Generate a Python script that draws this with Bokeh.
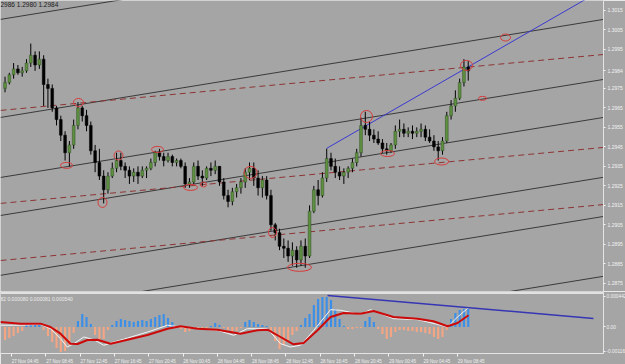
from bokeh.plotting import figure
from bokeh.layouts import column
from bokeh.models import (Range1d, FixedTicker, Span, Label, ColumnDataSource, AllLabels)
from bokeh.embed import file_html
from bokeh.resources import INLINE

# ---------------- data ----------------
opens = [1.2975,1.2978,1.2982,1.2985,1.2983,1.2984,1.2988,1.2992,1.2987,1.2990,
         1.2977,1.2975,1.2965,1.2959,1.2951,1.2942,1.2946,1.2956,1.2965,1.2961,
         1.2956,1.2943,1.2937,1.2930,1.2923,1.2930,1.2934,1.2938,1.2935,1.2933,
         1.2930,1.2932,1.2930,1.2933,1.2934,1.2937,1.2942,1.2940,1.2938,1.2940,
         1.2937,1.2938,1.2935,1.2926,1.2927,1.2935,1.2930,1.2929,1.2934,1.2933,
         1.2935,1.2927,1.2920,1.2917,1.2922,1.2924,1.2927,1.2932,1.2934,1.2929,
         1.2924,1.2928,1.2920,1.2905,1.2901,1.2894,1.2893,1.2889,1.2892,1.2887,
         1.2894,1.2889,1.2912,1.2923,1.2920,1.2929,1.2939,1.2935,1.2932,1.2930,
         1.2932,1.2934,1.2937,1.2942,1.2956,1.2954,1.2951,1.2949,1.2947,1.2944,
         1.2943,1.2946,1.2953,1.2954,1.2952,1.2953,1.2952,1.2953,1.2954,1.2950,
         1.2948,1.2945,1.2943,1.2948,1.2961,1.2966,1.2970,1.2978,1.2986]
highs = [1.2981,1.2983,1.2988,1.2987,1.2986,1.2990,1.2998,1.2994,1.2994,1.2992,
         1.2980,1.2977,1.2966,1.2961,1.2953,1.2948,1.2959,1.2968,1.2966,1.2964,
         1.2958,1.2946,1.2944,1.2933,1.2932,1.2937,1.2942,1.2942,1.2937,1.2935,
         1.2934,1.2935,1.2935,1.2935,1.2939,1.2943,1.2944,1.2942,1.2942,1.2941,
         1.2939,1.2939,1.2937,1.2929,1.2937,1.2938,1.2933,1.2935,1.2937,1.2938,
         1.2935,1.2929,1.2923,1.2924,1.2926,1.2929,1.2934,1.2937,1.2937,1.2933,
         1.2930,1.2930,1.2923,1.2906,1.2903,1.2898,1.2897,1.2896,1.2894,1.2897,
         1.2898,1.2915,1.2925,1.2928,1.2932,1.2944,1.2942,1.2939,1.2935,1.2934,
         1.2935,1.2939,1.2944,1.2960,1.2963,1.2958,1.2954,1.2953,1.2949,1.2947,
         1.2947,1.2956,1.2959,1.2957,1.2955,1.2956,1.2955,1.2957,1.2956,1.2954,
         1.2951,1.2948,1.2950,1.2963,1.2969,1.2974,1.2980,1.2990,1.2989]
lows = [1.2973,1.2977,1.2980,1.2982,1.2981,1.2983,1.2986,1.2984,1.2985,1.2966,
        1.2965,1.2963,1.2956,1.2948,1.2938,1.2935,1.2944,1.2954,1.2958,1.2953,
        1.2941,1.2932,1.2928,1.2916,1.2921,1.2929,1.2932,1.2933,1.2929,1.2926,
        1.2927,1.2926,1.2929,1.2929,1.2933,1.2935,1.2938,1.2935,1.2937,1.2935,
        1.2935,1.2934,1.2924,1.2924,1.2926,1.2928,1.2925,1.2928,1.2930,1.2931,
        1.2925,1.2918,1.2914,1.2915,1.2919,1.2921,1.2924,1.2928,1.2925,1.2920,
        1.2919,1.2918,1.2902,1.2897,1.2892,1.2888,1.2886,1.2884,1.2883,1.2884,
        1.2883,1.2888,1.2911,1.2915,1.2919,1.2927,1.2933,1.2929,1.2928,1.2926,
        1.2929,1.2932,1.2935,1.2940,1.2951,1.2948,1.2947,1.2946,1.2942,1.2941,
        1.2942,1.2944,1.2950,1.2950,1.2950,1.2949,1.2950,1.2950,1.2948,1.2947,
        1.2943,1.2938,1.2941,1.2947,1.2959,1.2963,1.2969,1.2976,1.2979]
closes = [1.2978,1.2982,1.2985,1.2983,1.2984,1.2988,1.2992,1.2987,1.2990,1.2977,
          1.2975,1.2965,1.2959,1.2951,1.2942,1.2946,1.2956,1.2965,1.2961,1.2956,
          1.2943,1.2937,1.2930,1.2923,1.2930,1.2934,1.2938,1.2935,1.2933,1.2930,
          1.2932,1.2930,1.2933,1.2934,1.2937,1.2942,1.2940,1.2938,1.2940,1.2937,
          1.2938,1.2935,1.2926,1.2927,1.2935,1.2930,1.2929,1.2934,1.2933,1.2935,
          1.2927,1.2920,1.2917,1.2922,1.2924,1.2927,1.2932,1.2934,1.2929,1.2924,
          1.2928,1.2920,1.2905,1.2901,1.2894,1.2893,1.2889,1.2892,1.2887,1.2894,
          1.2889,1.2912,1.2923,1.2920,1.2929,1.2939,1.2935,1.2932,1.2930,1.2932,
          1.2934,1.2937,1.2942,1.2956,1.2954,1.2951,1.2949,1.2947,1.2944,1.2943,
          1.2946,1.2953,1.2954,1.2952,1.2953,1.2952,1.2953,1.2954,1.2950,1.2948,
          1.2945,1.2943,1.2948,1.2961,1.2966,1.2970,1.2978,1.2986,1.2984]

# bar times in hours since 27 Nov 00:00 (30-minute bars)
bar_start, bar_step = 4.0, 0.5
bar_times = [bar_start + bar_step * i for i in range(len(closes))]

hist = [-0.000189,-0.000160,-0.000131,-0.000087,-0.000058,0.000029,0.000044,0.000044,0.000029,-0.000044,
        -0.000131,-0.000218,-0.000305,-0.000363,-0.000348,-0.000261,-0.000087,0.000087,0.000189,0.000145,
        0.000044,-0.000116,-0.000203,-0.000174,-0.000044,0.000029,0.000087,0.000116,0.000102,0.000087,
        0.000073,0.000087,0.000102,0.000087,0.000116,0.000145,0.000174,0.000189,0.000131,0.000073,
        0.000015,-0.000029,-0.000073,-0.000058,-0.000029,-0.000015,-0.000029,-0.000015,0.000015,0.000058,
        0.000029,-0.000015,-0.000044,-0.000087,-0.000058,-0.000015,0.000073,0.000102,0.000073,0.000044,
        0.000029,0.000015,-0.000087,-0.000203,-0.000319,-0.000261,-0.000189,-0.000116,-0.000058,0.000029,
        0.000131,0.000189,0.000319,0.000406,0.000435,0.000435,0.000392,0.000261,0.000116,0.000015,
        -0.000029,-0.000029,-0.000015,-0.000015,0.000087,0.000145,0.000073,-0.000029,-0.000102,-0.000174,
        -0.000145,-0.000073,-0.000044,-0.000044,-0.000058,-0.000058,-0.000073,-0.000073,-0.000087,-0.000102,
        -0.000145,-0.000174,-0.000145,-0.000044,0.000116,0.000203,0.000247,0.000261,0.000261]

macd_t = [3.47,5.80,8.13,9.30,10.47,11.63,12.45,13.61,14.78,16.30,18.28,20.61,22.94,24.46,26.44,28.77,
          31.45,33.43,34.60,36.12,37.63,38.80,40.43,41.95,43.46,45.44,46.96,49.29,52.09,53.95,55.59,56.75,58.03]
macd_v = [0.000073,0.000048,0.000048,0.0,-0.000097,-0.000242,-0.000247,-0.000189,-0.000184,-0.000242,
          -0.000184,-0.000116,-0.000025,0.000010,-0.000025,-0.000039,-0.000097,-0.000048,-0.000039,-0.000145,
          -0.000251,-0.000232,-0.000048,0.000145,0.000203,0.000193,0.000232,0.000145,0.000120,0.000083,
          0.000010,0.000058,0.000170]
sig_t = [3.47,5.80,8.13,9.30,10.47,11.25,12.02,13.18,14.35,15.51,16.68,18.28,20.61,22.94,24.46,26.44,28.77,
         30.67,32.23,34.60,36.12,37.28,38.45,40.00,41.95,43.11,45.44,46.61,49.29,52.09,54.38,55.59,56.75,58.03]
sig_v = [0.000025,0.000025,0.000039,-0.000025,-0.000170,-0.000290,-0.000242,-0.000145,-0.000184,-0.000265,
         -0.000218,-0.000160,-0.000073,0.000025,0.0,-0.000025,-0.000048,-0.000120,-0.000025,-0.000025,
         -0.000242,-0.000290,-0.000265,-0.000048,0.000251,0.000242,0.000184,0.000251,0.000120,0.000106,
         0.000039,0.0,0.000145,0.000280]

# trend channel lines: price at left edge / right edge of the chart
solid_left = [1.30104, 1.29601, 1.29293, 1.29098, 1.28791, 1.28590, 1.28283]
solid_right = [1.30607, 1.30104, 1.29796, 1.29601, 1.29294, 1.29093, 1.28786]
dashed_left = [1.29637, 1.29160, 1.28867]
dashed_right = [1.29924, 1.29447, 1.29154]
blue_t = [41.48, 73.77]
blue_p = [1.29442, 1.30260]
osc_blue_t = [41.6, 72.6]
osc_blue_v = [0.000457, 0.000123]

# marked swing points (ellipses)
mark_t = [12.56, 11.17, 15.36, 17.23, 21.77, 25.62, 27.14, 32.62, 35.18, 38.33, 46.14, 48.59, 54.89, 57.80, 59.67, 62.35]
mark_p = [1.29678, 1.29355, 1.29165, 1.29406, 1.29437, 1.29242, 1.29257, 1.29319, 1.29011, 1.28832,
          1.29606, 1.29416, 1.29375, 1.29868, 1.29699, 1.30011]
mark_w = [10, 12, 9, 9, 12, 14, 6, 13, 8, 24, 12, 14, 14, 12, 8, 10]
mark_h = [8, 6, 10, 9, 6, 6, 5, 12, 10, 8, 12, 6, 7, 10, 4, 7]

price_ticks = [1.3015, 1.3005, 1.2995, 1.2984, 1.2975, 1.2965, 1.2955, 1.2945, 1.2935, 1.2925,
               1.2915, 1.2905, 1.2895, 1.2885, 1.2875]
price_labels = ["1.3015", "1.3005", "1.2995", "1.2984", "1.2975", "1.2965", "1.2955", "1.2945",
                "1.2935", "1.2925", "1.2915", "1.2905", "1.2895", "1.2885", "1.2875"]
time_ticks = [4.75, 8.75, 12.75, 16.75, 20.75, 24.75, 28.75, 32.75, 36.75, 40.75, 44.75, 48.75, 52.75, 56.75]
time_labels = ["27 Nov 04:45", "27 Nov 08:45", "27 Nov 12:45", "27 Nov 16:45", "27 Nov 20:45",
               "28 Nov 00:45", "28 Nov 04:45", "28 Nov 08:45", "28 Nov 12:45", "28 Nov 16:45",
               "28 Nov 20:45", "29 Nov 00:45", "29 Nov 04:45", "29 Nov 08:45"]
osc_ticks = [0.000442, 0.0, -0.000355]
osc_labels = ["0.000442", "0.00", "-0.00116"]

# ---------------- style ----------------
BG = "#A5A5A5"
FG = "#F2F2F2"
FONT = "Liberation Sans"
FS = "5px"
X0, X1 = 3.47, 73.77

p = figure(frame_width=603, frame_height=291, x_range=Range1d(X0, X1),
           y_range=Range1d(1.28708, 1.30201), output_backend="svg", toolbar_location=None,
           y_axis_location="right", x_axis_location=None,
           background_fill_color=BG, border_fill_color=BG,
           min_border_left=0, min_border_right=0, min_border_top=0, min_border_bottom=0)
p.grid.visible = False
p.outline_line_color = None
ya = p.yaxis[0]
ya.ticker = FixedTicker(ticks=price_ticks)
ya.major_label_overrides = {k: v for k, v in zip(price_ticks, price_labels)}
ya.major_label_policy = AllLabels()
ya.major_label_text_font = FONT
ya.major_label_text_font_size = FS
ya.major_label_text_color = FG
ya.axis_line_color = "#E4E4E4"
ya.major_tick_line_color = FG
ya.major_tick_out = 2
ya.major_tick_in = 0
ya.minor_tick_line_color = None
ya.major_label_standoff = 2

# trend lines
p.multi_line(xs=[[X0, X1] for _ in solid_left], ys=[[a, b] for a, b in zip(solid_left, solid_right)],
             line_color="#3A3A3A", line_width=1)
p.multi_line(xs=[[X0, X1] for _ in dashed_left], ys=[[a, b] for a, b in zip(dashed_left, dashed_right)],
             line_color="#8E3434", line_width=1, line_dash="6 4")
p.line(blue_t, blue_p, line_color="#3A3AD0", line_width=1)

# candles
up = [c >= o for o, c in zip(opens, closes)]
src = ColumnDataSource(dict(
    t=bar_times, lo=lows, hi=highs,
    top=[max(o, c) for o, c in zip(opens, closes)],
    bot=[min(o, c) for o, c in zip(opens, closes)],
    fill=["#5E9040" if u else "#000000" for u in up],
    edge=["#2F4F22" if u else "#000000" for u in up]))
p.segment(x0="t", y0="lo", x1="t", y1="hi", source=src, line_color="#000000", line_width=1)
p.vbar(x="t", width=0.32, top="top", bottom="bot", source=src, fill_color="fill",
       line_color="edge", line_width=0.5)

# ellipses
p.ellipse(x=mark_t, y=mark_p, width=mark_w, height=mark_h, width_units="screen",
          height_units="screen", fill_color=None, line_color="#D83A3A", line_width=1)

p.add_layout(Label(x=X0, y=1.30198, text="2986 1.2980 1.2984", text_baseline="top",
                   text_font=FONT, text_font_size="6.5px", text_color="#1A1A1A"))

# ---------------- oscillator ----------------
q = figure(frame_width=603, frame_height=62, x_range=p.x_range,
           y_range=Range1d(-0.000384, 0.000514), output_backend="svg", toolbar_location=None,
           y_axis_location="right", background_fill_color=BG, border_fill_color=BG,
           min_border_left=0, min_border_right=0, min_border_top=0, min_border_bottom=0)
q.grid.visible = False
q.outline_line_color = None
qy = q.yaxis[0]
qy.ticker = FixedTicker(ticks=osc_ticks)
qy.major_label_overrides = {k: v for k, v in zip(osc_ticks, osc_labels)}
qy.major_label_policy = AllLabels()
qy.major_label_text_font = FONT
qy.major_label_text_font_size = "4.8px"
qy.major_label_text_color = FG
qy.axis_line_color = "#E4E4E4"
qy.major_tick_line_color = FG
qy.major_tick_out = 2
qy.major_tick_in = 0
qy.minor_tick_line_color = None
qy.major_label_standoff = 1

qx = q.xaxis[0]
label_pos = [t + 1.6 for t in time_ticks]
qx.ticker = FixedTicker(ticks=label_pos, minor_ticks=time_ticks)
qx.major_label_overrides = {k: v for k, v in zip(label_pos, time_labels)}
qx.major_label_policy = AllLabels()
qx.major_label_text_font = FONT
qx.major_label_text_font_size = "4.5px"
qx.major_label_text_color = FG
qx.axis_line_color = "#E4E4E4"
qx.major_tick_line_color = None
qx.major_tick_out = 0
qx.major_tick_in = 0
qx.minor_tick_line_color = FG
qx.minor_tick_out = 3
qx.minor_tick_in = 0
qx.major_label_standoff = 2

q.add_layout(Span(location=0.000492, dimension="width", line_color="#E2E2E2", line_width=2))

hsrc = ColumnDataSource(dict(t=bar_times, v=hist,
                             c=["#3C8FE8" if v >= 0 else "#F4A584" for v in hist]))
q.vbar(x="t", width=0.25, top="v", bottom=0, source=hsrc, fill_color="c", line_color=None)
q.line(sig_t, sig_v, line_color="#F4F4F4", line_width=1)
q.line(macd_t, macd_v, line_color="#CC0A0A", line_width=2)
q.line(osc_blue_t, osc_blue_v, line_color="#3636B4", line_width=1.5)

q.add_layout(Label(x=X0, y=0.000455, text="82 0.000080 0.000081 0.000540", text_baseline="top",
                   text_font=FONT, text_font_size="5px", text_color="#EDEDED"))

layout = column(p, q, spacing=0)
open("out.html", "w").write(file_html(layout, INLINE))
